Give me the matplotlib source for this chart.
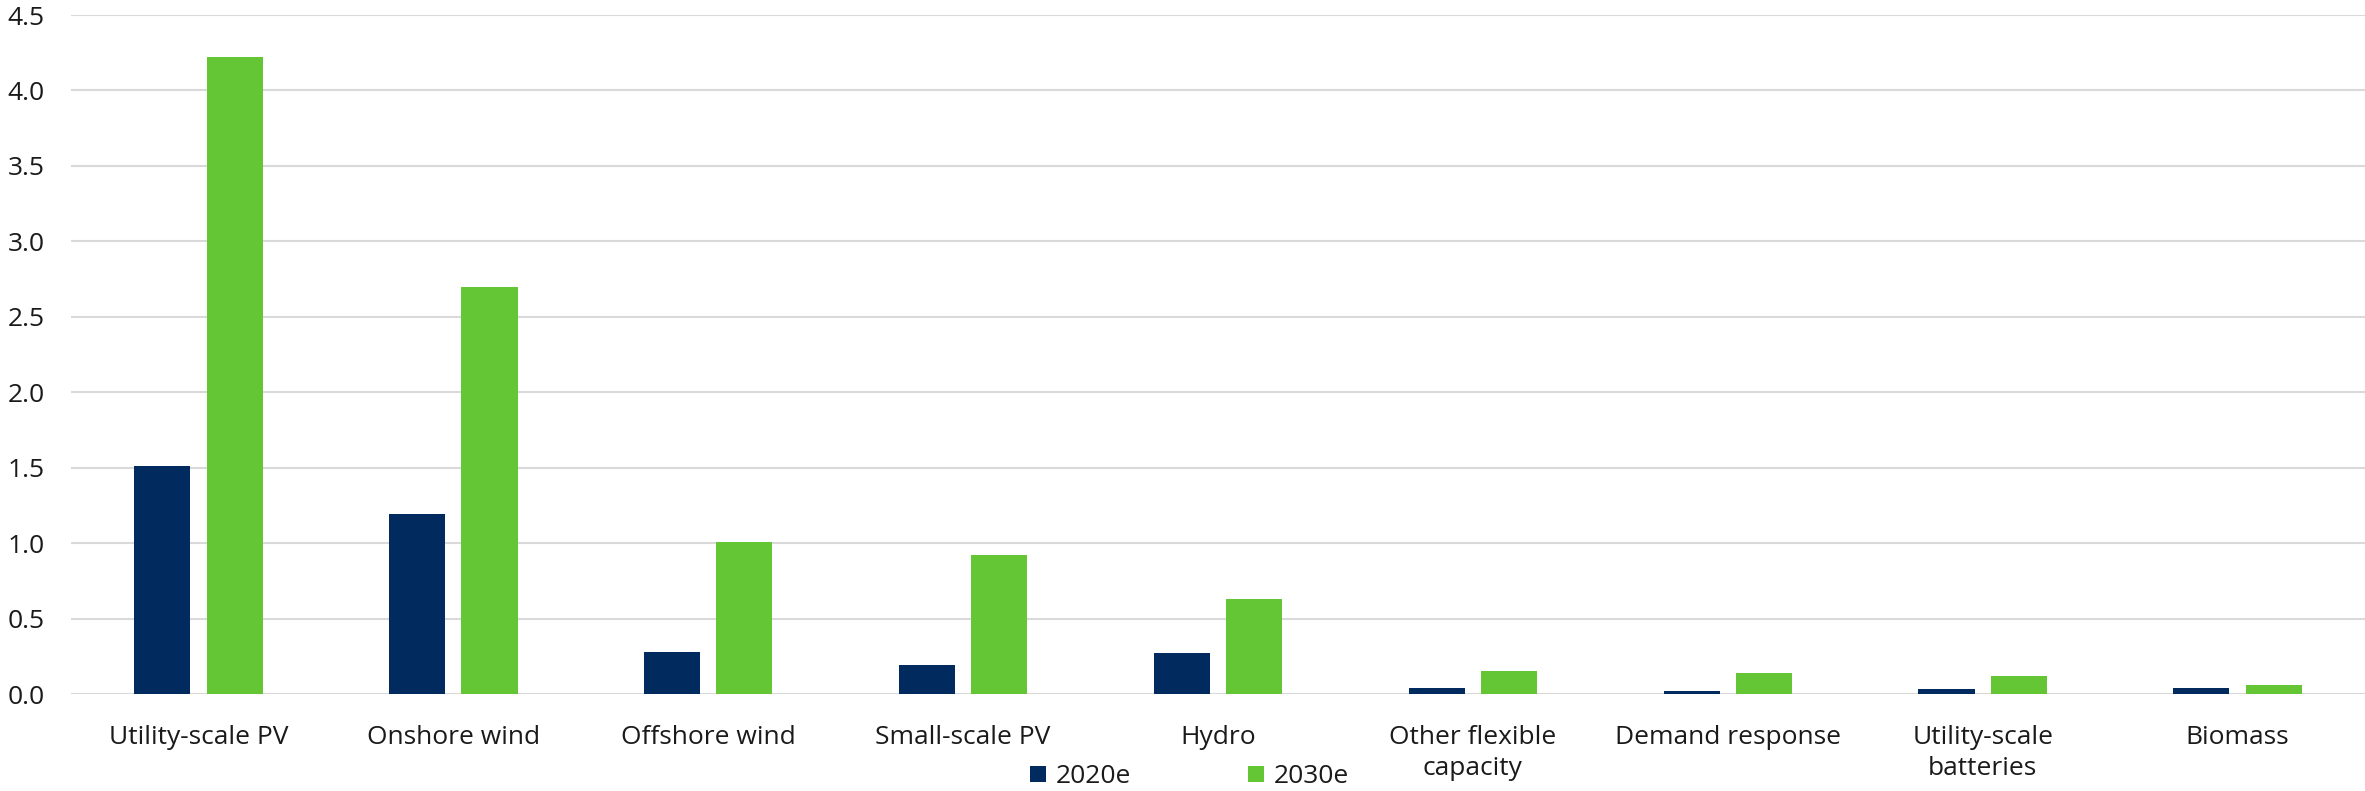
import matplotlib
matplotlib.use("Agg")
import matplotlib.pyplot as plt
import numpy as np
from matplotlib.patches import Patch

plt.rcParams['font.family'] = ['Open Sans', 'DejaVu Sans']

categories = ["Utility-scale PV", "Onshore wind", "Offshore wind", "Small-scale PV",
              "Hydro", "Other flexible\ncapacity", "Demand response",
              "Utility-scale\nbatteries", "Biomass"]
values_2020 = [1.51, 1.19, 0.28, 0.19, 0.27, 0.04, 0.02, 0.03, 0.04]
values_2030 = [4.22, 2.70, 1.01, 0.92, 0.63, 0.15, 0.14, 0.12, 0.06]
series_names = ["2020e", "2030e"]
y_ticks = [0.0, 0.5, 1.0, 1.5, 2.0, 2.5, 3.0, 3.5, 4.0, 4.5]

navy = "#012A5E"
green = "#65C635"
grid_gray = "#D9D9D9"
text_color = "#1A1A1A"
fs = 19

fig = plt.figure(figsize=(23.65, 7.91), dpi=100)
ax = fig.add_axes([0.030, 0.1226, 0.970, 0.8584])

x = np.arange(len(categories))
w = 0.22
off = 0.142
ax.bar(x - off, values_2020, width=w, color=navy, zorder=3)
ax.bar(x + off, values_2030, width=w, color=green, zorder=3)

ax.set_xlim(-0.5, len(categories) - 0.5)
ax.set_ylim(0, 4.5)
ax.set_yticks(y_ticks)
ax.set_yticklabels([f"{t:.1f}" for t in y_ticks])
ax.set_xticks(x)
ax.set_xticklabels(categories, linespacing=1.33)

ax.grid(axis='y', color=grid_gray, linewidth=1.5, zorder=0)
ax.set_axisbelow(True)
for s in ax.spines.values():
    s.set_visible(False)
ax.tick_params(axis='both', length=0, labelsize=fs, colors=text_color)
ax.tick_params(axis='y', pad=19)
ax.tick_params(axis='x', pad=22)

handles = [Patch(facecolor=navy), Patch(facecolor=green)]
fig.legend(handles, series_names, loc='center', bbox_to_anchor=(0.503, 0.018),
           ncol=2, frameon=False, fontsize=fs, handlelength=0.6, handleheight=0.6,
           handletextpad=0.4, columnspacing=4.4, labelcolor=text_color)

fig.savefig("out.png", dpi=100)
